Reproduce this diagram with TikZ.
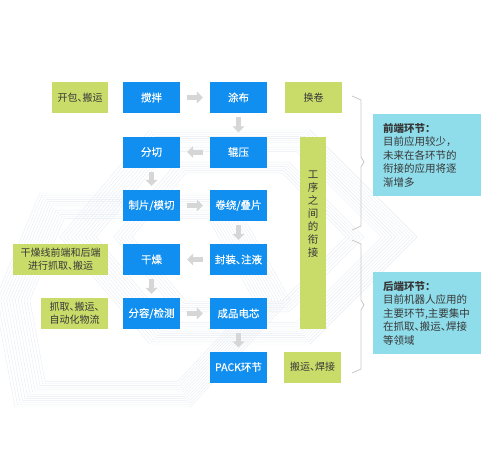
\documentclass[tikz,border=0pt]{standalone}
\usepackage{fontspec}
\newfontfamily\cjk[RawFeature=+halt]{Noto Sans CJK SC}
\newfontfamily\cjkm[RawFeature=+halt,FakeBold=0.3]{Noto Sans CJK SC}
\usetikzlibrary{arrows.meta}
\definecolor{boxblue}{RGB}{16,143,240}
\definecolor{boxgreen}{RGB}{201,220,106}
\definecolor{boxcyan}{RGB}{143,221,235}
\definecolor{arrowgray}{RGB}{214,214,214}
\definecolor{bracegray}{RGB}{200,200,200}
\definecolor{bgline}{RGB}{230,236,243}
\definecolor{txtdark}{RGB}{55,55,55}
\begin{document}
\begin{tikzpicture}[x=1pt,y=-1pt,
  bluebox/.style={fill=boxblue, text=white, minimum width=57pt, minimum height=31pt, inner sep=0pt,
    font=\cjkm\fontsize{10.5pt}{12pt}\selectfont},
  greenbox/.style={fill=boxgreen, text=txtdark, minimum height=31pt, inner sep=0pt, align=center,
    font=\cjk\fontsize{10pt}{13pt}\selectfont},
  cyanbox/.style={fill=boxcyan, text=txtdark, text width=88pt, inner xsep=10pt, inner ysep=0pt,
    minimum height=82pt, align=left, font=\cjk\fontsize{10.5pt}{13.5pt}\selectfont},
  grayarrow/.style={draw=arrowgray, line width=5pt, -{Triangle[length=6pt,width=12pt]}},
  bracket/.style={draw=bracegray, line width=0.8pt},
  bgpat/.style={draw=bgline, line width=0.4pt}]
\useasboundingbox (0,0) rectangle (500,469);
\begin{scope}
\clip (0,0) rectangle (500,469);
% background pattern
\foreach \s in {1.00,0.98,0.96,0.94,0.92,0.90,0.88,0.86,0.84,0.82,0.80,0.70,0.68,0.66,0.64,0.62,0.60} {
  \draw[bgpat, shift={(240,237)}, scale=\s] (-90,-107) -- (70,-107) -- (177,0) -- (70,107) -- (-90,107) -- (-180,0) -- cycle;
}
\foreach \s in {1.00,0.98,0.96,0.94,0.92,0.90,0.88,0.86,0.84,0.82,0.80,0.78,0.76} {
  \draw[bgpat, shift={(140,300)}, scale=\s] (-100,-107) -- (90,-107) -- (150,0) -- (50,107) -- (-125,107) -- (-145,0) -- cycle;
}
\end{scope}
% blue process boxes
\node[bluebox] (jiaoban) at (151.5,97.5) {搅拌};
\node[bluebox] (tubu) at (238.5,97.5) {涂布};
\node[bluebox] (fenqie) at (151.5,152) {分切};
\node[bluebox] (gunya) at (238.5,152) {辊压};
\node[bluebox] (zhipian) at (151.5,205.5) {制片/模切};
\node[bluebox] (juanrao) at (238.5,205.5) {卷绕/叠片};
\node[bluebox] (ganzao) at (151.5,259.5) {干燥};
\node[bluebox] (fengzhuang) at (238.5,259.5) {封装、注液};
\node[bluebox] (fenrong) at (151.5,313.5) {分容/检测};
\node[bluebox] (chengpin) at (238.5,313.5) {成品电芯};
\node[bluebox] (pack) at (238.5,367) {PACK环节};
% green boxes
\node[greenbox, minimum width=56pt] (kaibao) at (80,97.5) {开包、搬运};
\node[greenbox, minimum width=57pt] (huanjuan) at (313.5,97.5) {换卷};
\node[greenbox, minimum width=26pt, minimum height=192pt] (gongxu) at (313,233) {};
\node[text=txtdark, align=center, inner sep=0pt, font=\cjk\fontsize{10.5pt}{13pt}\selectfont] (gongxutext) at (313,214) {工\\序\\之\\间\\的\\衔\\接};
\node[greenbox, minimum width=95pt] (ganzaoline) at (60.5,259.5) {干燥线前端和后端\\进行抓取、搬运};
\node[greenbox, minimum width=67pt] (zhuaqu) at (74.5,313.5) {抓取、搬运、\\自动化物流};
\node[greenbox, minimum width=57pt] (hanjie) at (312.5,367) {搬运、焊接};
% cyan boxes
\node[cyanbox] (qianduan) at (427,155) {\textbf{前端环节：}\\目前应用较少，\\未来在各环节的\\衔接的应用将逐\\渐增多};
\node[cyanbox] (houduan) at (427,313) {\textbf{后端环节：}\\目前机器人应用的\\主要环节,主要集中\\在抓取、搬运、焊接\\等领域};
% arrows
\draw[grayarrow, shorten <=7pt, shorten >=7pt] (jiaoban) -- (tubu);
\draw[grayarrow, shorten <=4pt, shorten >=4pt] (tubu) -- (gunya);
\draw[grayarrow, shorten <=7pt, shorten >=7pt] (gunya) -- (fenqie);
\draw[grayarrow, shorten <=4pt, shorten >=4pt] (fenqie) -- (zhipian);
\draw[grayarrow, shorten <=7pt, shorten >=7pt] (zhipian) -- (juanrao);
\draw[grayarrow, shorten <=4pt, shorten >=4pt] (juanrao) -- (fengzhuang);
\draw[grayarrow, shorten <=7pt, shorten >=7pt] (fengzhuang) -- (ganzao);
\draw[grayarrow, shorten <=4pt, shorten >=4pt] (ganzao) -- (fenrong);
\draw[grayarrow, shorten <=7pt, shorten >=7pt] (fenrong) -- (chengpin);
\draw[grayarrow, shorten <=4pt, shorten >=4pt] (chengpin) -- (pack);
% brackets
\draw[bracket] (352,96) -- (361,100) -- (361,157) -- (364,162) -- (361,167) -- (361,226) -- (352,230);
\draw[bracket] (352,240) -- (361,244) -- (361,300) -- (364,305) -- (361,310) -- (361,369) -- (352,373);
\end{tikzpicture}
\end{document}
